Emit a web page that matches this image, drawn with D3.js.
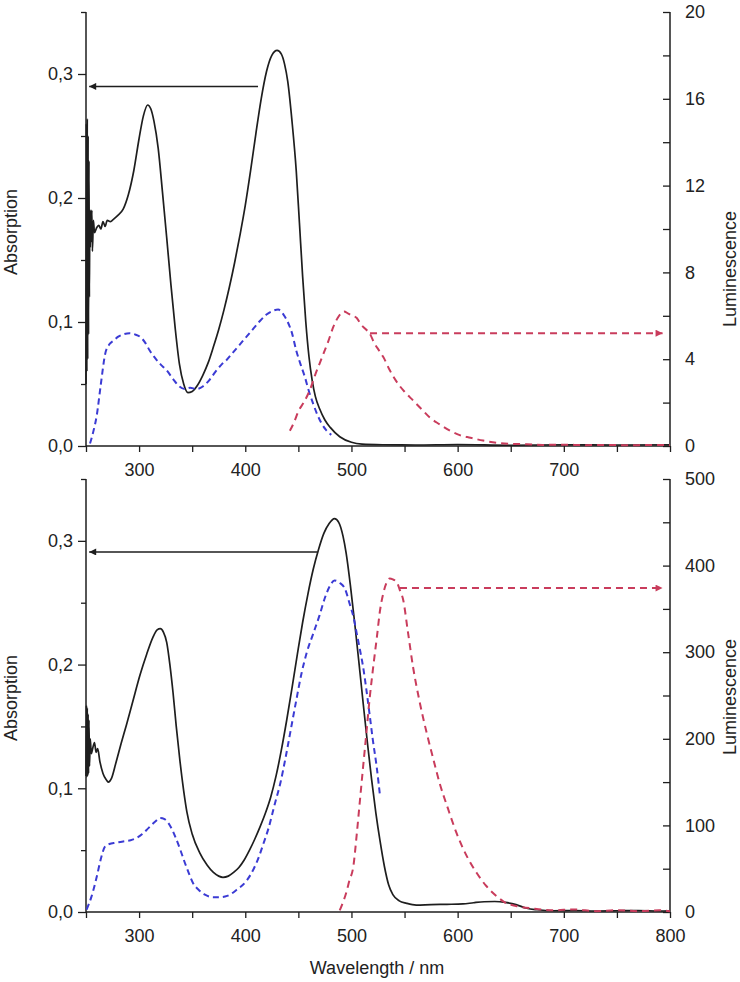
<!DOCTYPE html>
<html><head><meta charset="utf-8">
<script src="https://cdn.jsdelivr.net/npm/d3@7"></script>
<style>
body{margin:0;background:#fff}
text{font-family:"Liberation Sans",Arial,sans-serif;fill:#222}
</style>
</head><body>
<svg id="chart" width="740" height="982"></svg>
<script>
// ---------------- DATA ----------------
const xDomain = [250, 800];
const xMinorTicks = [250,300,350,400,450,500,550,600,650,700,750,800];
const xLabelsTop = [300,400,500,600,700];
const xLabelsBottom = [300,400,500,600,700,800];
const absDomain = [0, 0.35];
const absMajor = [0, 0.1, 0.2, 0.3];
const absMinor = [0.05, 0.15, 0.25, 0.35];
const lumTopDomain = [0, 20];
const lumTopMajor = [0,4,8,12,16,20];
const lumTopMinor = [2,6,10,14,18];
const lumBottomDomain = [0, 500];
const lumBottomMajor = [0,100,200,300,400,500];
const lumBottomMinor = [50,150,250,350,450];

// Top panel: absorption (black), excitation (blue, absorption scale), emission (red, luminescence scale)
const topAbsorption = [[250,0.05],[250.4,0.26],[250.8,0.06],[251.2,0.264],[251.6,0.07],[252,0.25],[252.4,0.09],[252.8,0.23],[253.2,0.12],[253.6,0.19],[254,0.16],[254.5,0.19],[255,0.165],[255.5,0.19],[256,0.157],[257,0.182],[258,0.172],[260,0.176],[262,0.178],[264,0.175],[266,0.181],[268,0.177],[270,0.182],[273,0.181],[276,0.183],[280,0.186],[285,0.191],[290,0.203],[295,0.222],[300,0.248],[304,0.266],[308,0.275],[311,0.272],[314,0.262],[318,0.240],[322,0.205],[326,0.168],[330,0.130],[334,0.095],[338,0.066],[342,0.050],[346,0.043],[350,0.044],[355,0.049],[360,0.057],[365,0.067],[370,0.080],[375,0.094],[380,0.110],[385,0.128],[390,0.148],[395,0.170],[400,0.194],[405,0.222],[410,0.252],[415,0.280],[420,0.302],[425,0.315],[430,0.319],[434,0.316],[437,0.308],[440,0.294],[444,0.262],[448,0.222],[451,0.180],[454,0.137],[457,0.100],[460,0.072],[463,0.053],[466,0.040],[470,0.030],[475,0.021],[480,0.015],[489,0.0075],[500,0.003],[510,0.0015],[530,0.001],[560,0.0008],[600,0.0012],[650,0.0006],[700,0.001],[750,0.0008],[800,0.001]];
const topExcitation = [[253.8,0.002],[257,0.012],[260,0.024],[264,0.050],[268,0.074],[272,0.082],[276,0.085],[280,0.088],[285,0.090],[291,0.091],[296,0.090],[301,0.088],[306,0.083],[310,0.077],[315,0.071],[320,0.066],[326,0.061],[332,0.054],[338,0.048],[343,0.046],[348,0.047],[354,0.046],[360,0.048],[366,0.053],[372,0.060],[378,0.066],[382,0.069],[388,0.075],[395,0.082],[401,0.088],[408,0.095],[414,0.101],[420,0.106],[426,0.109],[431,0.110],[436,0.106],[440,0.100],[444,0.091],[448,0.077],[452,0.066],[456,0.056],[460,0.044],[464,0.034],[468,0.025],[472,0.018],[476,0.013],[481,0.009]];
const topEmission = [[442,0.7],[446,1.1],[450,1.6],[455,2.0],[461,2.6],[466,3.3],[470,3.8],[474,4.3],[478,4.8],[483,5.5],[487,5.9],[490,6.1],[493,6.2],[497,6.1],[501,6.0],[505,5.9],[509,5.6],[513,5.4],[517,5.2],[522,4.7],[526,4.4],[530,4.1],[536,3.5],[542,3.0],[550,2.5],[558,2.1],[566,1.7],[574,1.3],[583,1.0],[593,0.7],[602,0.5],[612,0.38],[624,0.25],[637,0.15],[650,0.1],[665,0.08],[680,0.05],[700,0.06],[720,0.04],[740,0.05],[760,0.03],[780,0.05],[800,0.04]];
// arrows: [fromWavelength, toWavelength, value]
const topAbsArrow = [412, 253, 0.290];
const topLumArrow = [517.5, 793, 5.2];

// Bottom panel
const bottomAbsorption = [[250,0.11],[250.4,0.167],[250.8,0.109],[251.2,0.165],[251.6,0.11],[252,0.16],[252.4,0.112],[252.8,0.155],[253.3,0.118],[254,0.14],[255,0.128],[256.5,0.133],[258,0.137],[259.5,0.129],[261,0.132],[263,0.122],[266,0.112],[269,0.107],[271,0.105],[274,0.108],[278,0.120],[283,0.136],[288,0.151],[294,0.170],[301,0.192],[307,0.208],[313,0.222],[317,0.228],[320,0.229],[323,0.226],[326,0.218],[329,0.200],[332,0.177],[335,0.150],[338.5,0.122],[342,0.098],[345,0.081],[350,0.063],[357,0.048],[364,0.038],[370,0.032],[375,0.029],[379,0.028],[384,0.029],[389,0.032],[394,0.036],[399,0.042],[404,0.050],[409,0.059],[414,0.069],[419,0.080],[424,0.093],[429,0.110],[434,0.131],[439,0.155],[444,0.181],[449,0.208],[454,0.234],[459,0.257],[464,0.277],[469,0.293],[474,0.306],[479,0.314],[484,0.318],[488,0.315],[492,0.304],[495,0.290],[499,0.264],[503,0.234],[507,0.202],[511,0.169],[515,0.137],[519,0.107],[523,0.080],[527,0.057],[531,0.037],[535,0.022],[539,0.014],[545,0.009],[552,0.007],[561,0.0056],[575,0.006],[590,0.0062],[605,0.0065],[615,0.0075],[625,0.0083],[635,0.0085],[645,0.0078],[655,0.006],[665,0.003],[675,0.0018],[690,0.001],[710,0.0012],[730,0.0008],[750,0.001],[770,0.0012],[790,0.0008],[800,0.001]];
const bottomExcitation = [[250.6,0.002],[255,0.012],[260,0.028],[264,0.043],[268,0.053],[272,0.055],[278,0.056],[285,0.057],[292,0.058],[298,0.060],[303,0.063],[309,0.068],[315,0.073],[320,0.076],[324,0.075],[329,0.070],[334,0.061],[338.5,0.051],[343,0.040],[347,0.031],[351,0.023],[356,0.018],[362,0.014],[370,0.012],[376,0.012],[383,0.013],[392,0.018],[401,0.025],[408,0.035],[413,0.045],[417,0.055],[422,0.068],[428,0.088],[433,0.104],[438,0.125],[443,0.148],[448,0.171],[453,0.193],[458,0.210],[464,0.225],[470,0.240],[475,0.254],[480,0.264],[484,0.268],[489,0.266],[494,0.261],[498,0.250],[502,0.238],[505,0.225],[508,0.212],[511,0.198],[514,0.180],[517.5,0.157],[520,0.140],[523.8,0.117],[527,0.093]];
const bottomEmission = [[489,2],[491,8],[495,22],[498,36],[501.7,52],[505,90],[508,129],[511,168],[514,206],[517,245],[520.5,283],[524,318],[527,349],[530,368],[533,380],[536,385],[539,384],[542.6,381],[545.5,372],[548.8,360],[553,325],[558,283],[564,244],[571,206],[577,177],[583,149],[591,119],[599,91],[608,66],[618,45],[627,30],[637,18],[646,10],[655,7],[671,4],[690,2],[710,3],[730,1],[750,2],[770,1],[790,2],[800,1]];
const bottomAbsArrow = [467.6, 253, 0.291];
const bottomLumArrow = [545.7, 793, 374];

// ---------------- DRAWING ----------------
const svg = d3.select("#chart");
const COL_BLACK = "#1e1e1e", COL_BLUE = "#3b3bd4", COL_RED = "#c93c5c";
const FS = 18;
const defs = svg.append("defs");
function marker(id, color){
  defs.append("marker").attr("id", id).attr("viewBox","0 0 10 10")
    .attr("refX", 10).attr("refY", 5).attr("markerWidth", 10).attr("markerHeight", 7)
    .attr("markerUnits","userSpaceOnUse").attr("orient","auto")
    .append("path").attr("d","M0,0 L10,5 L0,10 Z").attr("fill", color);
}
marker("arrBlack", COL_BLACK);
marker("arrRed", COL_RED);

const x = d3.scaleLinear().domain(xDomain).range([86, 670]);

function panel(o){
  const g = svg.append("g");
  const yA = d3.scaleLinear().domain(absDomain).range([o.bottom, o.top]);
  const yL = d3.scaleLinear().domain(o.lumDomain).range([o.bottom, o.top]);

  const xa = g.append("g").attr("transform", `translate(0,${o.bottom})`)
    .call(d3.axisBottom(x).tickValues(xMinorTicks).tickSize(6).tickPadding(11)
      .tickFormat(d => o.xLabels.includes(d) ? d : ""));
  const la = g.append("g").attr("transform", `translate(86,0)`)
    .call(d3.axisLeft(yA).tickValues(absMajor).tickSize(8).tickPadding(5)
      .tickFormat(d => d3.format(".1f")(d).replace(".", ",")));
  g.append("g").attr("transform", `translate(86,0)`)
    .call(d3.axisLeft(yA).tickValues(absMinor).tickSize(5).tickFormat(""))
    .select(".domain").remove();
  const ra = g.append("g").attr("transform", `translate(670,0)`)
    .call(d3.axisRight(yL).tickValues(o.lumMajor).tickSizeInner(-7).tickSizeOuter(0).tickPadding(15));
  g.append("g").attr("transform", `translate(670,0)`)
    .call(d3.axisRight(yL).tickValues(o.lumMinor).tickSizeInner(-7).tickSizeOuter(0).tickFormat(""))
    .select(".domain").remove();

  g.selectAll(".domain").attr("stroke", COL_BLACK).attr("stroke-width", 1.5);
  g.selectAll(".tick line").attr("stroke", COL_BLACK).attr("stroke-width", 1.3);
  g.selectAll(".tick text").attr("font-size", FS).attr("fill", "#222")
    .style("font-family", '"Liberation Sans", Arial, sans-serif');
  xa.select(".domain").attr("d", `M86,0H670`);
  la.select(".domain").attr("d", `M0,${o.bottom}V${o.top}`);
  ra.select(".domain").attr("d", `M0,${o.bottom}V${o.top}`);

  const lineA = d3.line().x(d => x(d[0])).y(d => yA(d[1])).curve(d3.curveMonotoneX);
  const lineL = d3.line().x(d => x(d[0])).y(d => yL(d[1])).curve(d3.curveMonotoneX);

  g.append("path").datum(o.abs).attr("d", lineA).attr("fill","none")
    .attr("stroke", COL_BLACK).attr("stroke-width", 1.7).attr("stroke-linejoin","round");
  g.append("path").datum(o.exc).attr("d", lineA).attr("fill","none")
    .attr("stroke", COL_BLUE).attr("stroke-width", 2).attr("stroke-dasharray","6,4");
  g.append("path").datum(o.em).attr("d", lineL).attr("fill","none")
    .attr("stroke", COL_RED).attr("stroke-width", 2).attr("stroke-dasharray","7,5");

  g.append("line").attr("x1", x(o.absArrow[0])).attr("x2", x(o.absArrow[1]))
    .attr("y1", yA(o.absArrow[2])).attr("y2", yA(o.absArrow[2]))
    .attr("stroke", COL_BLACK).attr("stroke-width", 1.5).attr("marker-end","url(#arrBlack)");
  g.append("line").attr("x1", x(o.lumArrow[0])).attr("x2", x(o.lumArrow[1]))
    .attr("y1", yL(o.lumArrow[2])).attr("y2", yL(o.lumArrow[2]))
    .attr("stroke", COL_RED).attr("stroke-width", 2).attr("stroke-dasharray","7,5")
    .attr("marker-end","url(#arrRed)");

  g.append("text").attr("transform", `translate(11,${o.absLabelY}) rotate(-90)`)
    .attr("text-anchor","middle").attr("dominant-baseline","central")
    .attr("font-size", FS).text("Absorption");
  g.append("text").attr("transform", `translate(730,${o.lumLabelY}) rotate(-90)`)
    .attr("text-anchor","middle").attr("dominant-baseline","central")
    .attr("font-size", FS).text("Luminescence");
}

panel({top:12, bottom:446, lumDomain:lumTopDomain, lumMajor:lumTopMajor, lumMinor:lumTopMinor,
  xLabels:xLabelsTop, abs:topAbsorption, exc:topExcitation, em:topEmission,
  absArrow:topAbsArrow, lumArrow:topLumArrow, absLabelY:232, lumLabelY:269});
panel({top:479, bottom:912, lumDomain:lumBottomDomain, lumMajor:lumBottomMajor, lumMinor:lumBottomMinor,
  xLabels:xLabelsBottom, abs:bottomAbsorption, exc:bottomExcitation, em:bottomEmission,
  absArrow:bottomAbsArrow, lumArrow:bottomLumArrow, absLabelY:698, lumLabelY:697});

svg.append("text").attr("x", 377).attr("y", 968).attr("text-anchor","middle")
  .attr("dominant-baseline","central").attr("font-size", FS).text("Wavelength / nm");
</script>
</body></html>
